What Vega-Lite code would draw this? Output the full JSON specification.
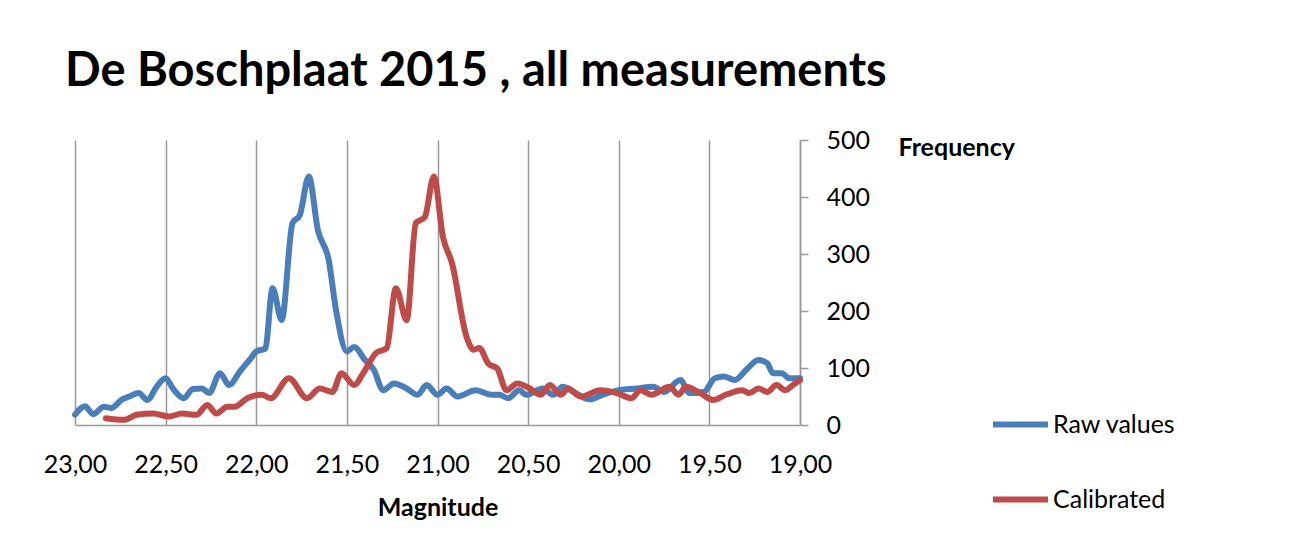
{
  "$schema": "https://vega.github.io/schema/vega-lite/v6.json",
  "width": 725,
  "height": 285,
  "autosize": "none",
  "padding": {"left": 75, "top": 140, "right": 491, "bottom": 128},
  "background": "white",
  "config": {"view": {"stroke": null}, "font": "Lato"},
  "title": {
    "text": "De Boschplaat 2015 , all measurements",
    "anchor": "start",
    "frame": "group",
    "dx": -10,
    "offset": 32,
    "fontSize": 47,
    "fontWeight": "bold",
    "font": "Lato",
    "color": "#000000"
  },
  "data": {
    "values": [
      {"mag": 23.00, "freq": 18, "series": "Raw values"},
      {"mag": 22.945, "freq": 33, "series": "Raw values"},
      {"mag": 22.90, "freq": 19, "series": "Raw values"},
      {"mag": 22.84, "freq": 32, "series": "Raw values"},
      {"mag": 22.80, "freq": 30, "series": "Raw values"},
      {"mag": 22.74, "freq": 45, "series": "Raw values"},
      {"mag": 22.70, "freq": 50, "series": "Raw values"},
      {"mag": 22.65, "freq": 56, "series": "Raw values"},
      {"mag": 22.60, "freq": 44, "series": "Raw values"},
      {"mag": 22.55, "freq": 67, "series": "Raw values"},
      {"mag": 22.50, "freq": 82, "series": "Raw values"},
      {"mag": 22.46, "freq": 64, "series": "Raw values"},
      {"mag": 22.40, "freq": 47, "series": "Raw values"},
      {"mag": 22.35, "freq": 63, "series": "Raw values"},
      {"mag": 22.30, "freq": 64, "series": "Raw values"},
      {"mag": 22.26, "freq": 56, "series": "Raw values"},
      {"mag": 22.20, "freq": 91, "series": "Raw values"},
      {"mag": 22.15, "freq": 70, "series": "Raw values"},
      {"mag": 22.09, "freq": 94, "series": "Raw values"},
      {"mag": 22.03, "freq": 117, "series": "Raw values"},
      {"mag": 22.00, "freq": 129, "series": "Raw values"},
      {"mag": 21.95, "freq": 134, "series": "Raw values"},
      {"mag": 21.91, "freq": 240, "series": "Raw values"},
      {"mag": 21.86, "freq": 184, "series": "Raw values"},
      {"mag": 21.80, "freq": 354, "series": "Raw values"},
      {"mag": 21.76, "freq": 368, "series": "Raw values"},
      {"mag": 21.71, "freq": 436, "series": "Raw values"},
      {"mag": 21.66, "freq": 342, "series": "Raw values"},
      {"mag": 21.60, "freq": 289, "series": "Raw values"},
      {"mag": 21.56, "freq": 202, "series": "Raw values"},
      {"mag": 21.50, "freq": 129, "series": "Raw values"},
      {"mag": 21.46, "freq": 137, "series": "Raw values"},
      {"mag": 21.40, "freq": 114, "series": "Raw values"},
      {"mag": 21.35, "freq": 96, "series": "Raw values"},
      {"mag": 21.30, "freq": 61, "series": "Raw values"},
      {"mag": 21.24, "freq": 73, "series": "Raw values"},
      {"mag": 21.17, "freq": 64, "series": "Raw values"},
      {"mag": 21.11, "freq": 53, "series": "Raw values"},
      {"mag": 21.06, "freq": 70, "series": "Raw values"},
      {"mag": 21.00, "freq": 53, "series": "Raw values"},
      {"mag": 20.95, "freq": 64, "series": "Raw values"},
      {"mag": 20.89, "freq": 50, "series": "Raw values"},
      {"mag": 20.79, "freq": 61, "series": "Raw values"},
      {"mag": 20.70, "freq": 53, "series": "Raw values"},
      {"mag": 20.66, "freq": 53, "series": "Raw values"},
      {"mag": 20.61, "freq": 47, "series": "Raw values"},
      {"mag": 20.55, "freq": 61, "series": "Raw values"},
      {"mag": 20.51, "freq": 53, "series": "Raw values"},
      {"mag": 20.42, "freq": 64, "series": "Raw values"},
      {"mag": 20.36, "freq": 53, "series": "Raw values"},
      {"mag": 20.31, "freq": 67, "series": "Raw values"},
      {"mag": 20.25, "freq": 58, "series": "Raw values"},
      {"mag": 20.16, "freq": 45, "series": "Raw values"},
      {"mag": 20.09, "freq": 53, "series": "Raw values"},
      {"mag": 20.00, "freq": 61, "series": "Raw values"},
      {"mag": 19.90, "freq": 64, "series": "Raw values"},
      {"mag": 19.81, "freq": 67, "series": "Raw values"},
      {"mag": 19.75, "freq": 58, "series": "Raw values"},
      {"mag": 19.66, "freq": 79, "series": "Raw values"},
      {"mag": 19.61, "freq": 56, "series": "Raw values"},
      {"mag": 19.53, "freq": 58, "series": "Raw values"},
      {"mag": 19.47, "freq": 82, "series": "Raw values"},
      {"mag": 19.42, "freq": 85, "series": "Raw values"},
      {"mag": 19.36, "freq": 79, "series": "Raw values"},
      {"mag": 19.29, "freq": 99, "series": "Raw values"},
      {"mag": 19.23, "freq": 114, "series": "Raw values"},
      {"mag": 19.18, "freq": 108, "series": "Raw values"},
      {"mag": 19.15, "freq": 91, "series": "Raw values"},
      {"mag": 19.10, "freq": 91, "series": "Raw values"},
      {"mag": 19.06, "freq": 82, "series": "Raw values"},
      {"mag": 19.00, "freq": 82, "series": "Raw values"},
      {"mag": 22.83, "freq": 12, "series": "Calibrated"},
      {"mag": 22.73, "freq": 9, "series": "Calibrated"},
      {"mag": 22.66, "freq": 18, "series": "Calibrated"},
      {"mag": 22.57, "freq": 20, "series": "Calibrated"},
      {"mag": 22.48, "freq": 15, "series": "Calibrated"},
      {"mag": 22.41, "freq": 20, "series": "Calibrated"},
      {"mag": 22.33, "freq": 18, "series": "Calibrated"},
      {"mag": 22.27, "freq": 35, "series": "Calibrated"},
      {"mag": 22.22, "freq": 20, "series": "Calibrated"},
      {"mag": 22.16, "freq": 32, "series": "Calibrated"},
      {"mag": 22.12, "freq": 32, "series": "Calibrated"},
      {"mag": 22.05, "freq": 47, "series": "Calibrated"},
      {"mag": 21.97, "freq": 53, "series": "Calibrated"},
      {"mag": 21.92, "freq": 47, "series": "Calibrated"},
      {"mag": 21.82, "freq": 82, "series": "Calibrated"},
      {"mag": 21.72, "freq": 47, "series": "Calibrated"},
      {"mag": 21.65, "freq": 64, "series": "Calibrated"},
      {"mag": 21.58, "freq": 58, "series": "Calibrated"},
      {"mag": 21.53, "freq": 91, "series": "Calibrated"},
      {"mag": 21.46, "freq": 70, "series": "Calibrated"},
      {"mag": 21.41, "freq": 91, "series": "Calibrated"},
      {"mag": 21.34, "freq": 126, "series": "Calibrated"},
      {"mag": 21.28, "freq": 135, "series": "Calibrated"},
      {"mag": 21.23, "freq": 240, "series": "Calibrated"},
      {"mag": 21.17, "freq": 184, "series": "Calibrated"},
      {"mag": 21.12, "freq": 354, "series": "Calibrated"},
      {"mag": 21.07, "freq": 365, "series": "Calibrated"},
      {"mag": 21.02, "freq": 436, "series": "Calibrated"},
      {"mag": 20.97, "freq": 330, "series": "Calibrated"},
      {"mag": 20.92, "freq": 284, "series": "Calibrated"},
      {"mag": 20.84, "freq": 155, "series": "Calibrated"},
      {"mag": 20.80, "freq": 132, "series": "Calibrated"},
      {"mag": 20.77, "freq": 135, "series": "Calibrated"},
      {"mag": 20.72, "freq": 108, "series": "Calibrated"},
      {"mag": 20.67, "freq": 99, "series": "Calibrated"},
      {"mag": 20.62, "freq": 61, "series": "Calibrated"},
      {"mag": 20.56, "freq": 73, "series": "Calibrated"},
      {"mag": 20.49, "freq": 64, "series": "Calibrated"},
      {"mag": 20.43, "freq": 53, "series": "Calibrated"},
      {"mag": 20.38, "freq": 70, "series": "Calibrated"},
      {"mag": 20.32, "freq": 53, "series": "Calibrated"},
      {"mag": 20.28, "freq": 64, "series": "Calibrated"},
      {"mag": 20.21, "freq": 50, "series": "Calibrated"},
      {"mag": 20.10, "freq": 61, "series": "Calibrated"},
      {"mag": 20.01, "freq": 56, "series": "Calibrated"},
      {"mag": 19.93, "freq": 47, "series": "Calibrated"},
      {"mag": 19.88, "freq": 61, "series": "Calibrated"},
      {"mag": 19.82, "freq": 53, "series": "Calibrated"},
      {"mag": 19.72, "freq": 67, "series": "Calibrated"},
      {"mag": 19.67, "freq": 53, "series": "Calibrated"},
      {"mag": 19.63, "freq": 67, "series": "Calibrated"},
      {"mag": 19.55, "freq": 56, "series": "Calibrated"},
      {"mag": 19.48, "freq": 44, "series": "Calibrated"},
      {"mag": 19.41, "freq": 53, "series": "Calibrated"},
      {"mag": 19.32, "freq": 61, "series": "Calibrated"},
      {"mag": 19.28, "freq": 56, "series": "Calibrated"},
      {"mag": 19.23, "freq": 64, "series": "Calibrated"},
      {"mag": 19.18, "freq": 58, "series": "Calibrated"},
      {"mag": 19.13, "freq": 70, "series": "Calibrated"},
      {"mag": 19.08, "freq": 61, "series": "Calibrated"},
      {"mag": 19.04, "freq": 70, "series": "Calibrated"},
      {"mag": 19.00, "freq": 79, "series": "Calibrated"}
    ]
  },
  "mark": {"type": "line", "interpolate": "monotone", "strokeWidth": 6, "strokeCap": "round", "strokeJoin": "round", "clip": false},
  "encoding": {
    "x": {
      "field": "mag",
      "type": "quantitative",
      "scale": {"domain": [19, 23], "reverse": true, "nice": false, "zero": false},
      "axis": {
        "values": [23, 22.5, 22, 21.5, 21, 20.5, 20, 19.5, 19],
        "labelExpr": "replace(format(datum.value, '.2f'), '.', ',')",
        "title": "Magnitude",
        "titleFont": "Lato",
        "titleFontSize": 25,
        "titleFontWeight": "bold",
        "titleColor": "#000000",
        "titlePadding": 18,
        "labelFont": "Lato",
        "labelFontSize": 25,
        "labelColor": "#000000",
        "labelPadding": 27,
        "labelOverlap": false,
        "labelFlush": false,
        "ticks": false,
        "grid": true,
        "gridColor": "#999999",
        "gridWidth": 1.5,
        "domainColor": "#999999",
        "domainWidth": 1.5
      }
    },
    "y": {
      "field": "freq",
      "type": "quantitative",
      "scale": {"domain": [0, 500], "nice": false},
      "axis": {
        "orient": "right",
        "values": [0, 100, 200, 300, 400, 500],
        "grid": false,
        "ticks": true,
        "tickSize": 8,
        "tickColor": "#999999",
        "tickWidth": 1.5,
        "domainColor": "#999999",
        "domainWidth": 1.5,
        "labelFont": "Lato",
        "labelFontSize": 25,
        "labelColor": "#000000",
        "labelPadding": 18,
        "title": "Frequency",
        "titleFont": "Lato",
        "titleFontSize": 25,
        "titleFontWeight": "bold",
        "titleColor": "#000000",
        "titleAngle": 0,
        "titleAlign": "left",
        "titleBaseline": "middle",
        "titleX": 98,
        "titleY": 7
      }
    },
    "color": {
      "field": "series",
      "type": "nominal",
      "scale": {"domain": ["Raw values", "Calibrated"], "range": ["#4A7EBB", "#BE4B48"]},
      "legend": {
        "orient": "none",
        "legendX": 915,
        "legendY": 254,
        "title": null,
        "symbolType": "stroke",
        "symbolSize": 3025,
        "symbolStrokeWidth": 6,
        "rowPadding": 31,
        "labelOffset": 2,
        "labelFont": "Lato",
        "labelFontSize": 25,
        "labelColor": "#000000"
      }
    }
  }
}
